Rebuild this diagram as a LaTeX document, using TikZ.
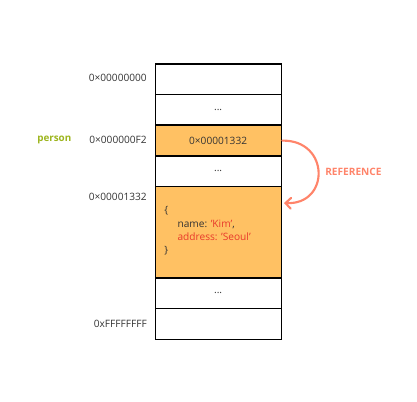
\documentclass[tikz,border=0pt]{standalone}
\usepackage{fontspec}
\setmainfont{Open Sans}
\usetikzlibrary{arrows.meta}
\definecolor{cellorange}{HTML}{FFC163}
\definecolor{arrowred}{HTML}{FF846A}
\definecolor{txtdark}{HTML}{333333}
\definecolor{txtred}{HTML}{E8392B}
\definecolor{olive}{HTML}{9DB51E}
\tikzset{
  cell/.style={draw=black, line width=0.9pt, minimum width=126*0.75pt, inner sep=0pt, font=\fontsize{7.6}{9}\selectfont, text=txtdark},
  addr/.style={anchor=east, font=\fontsize{7.6}{9}\selectfont, text=txtdark, inner sep=0pt},
}
\begin{document}
\begin{tikzpicture}[x=0.75pt,y=-0.75pt]
\useasboundingbox (0,0) rectangle (417,402);
% cells
\node[cell, fill=white, minimum height=30.5*0.75pt, anchor=north west] (c1) at (154.5,63.5) {};
\node[cell, fill=white, minimum height=31*0.75pt, anchor=north west] (c2) at (154.5,94) {...};
\node[cell, fill=cellorange, minimum height=31*0.75pt, anchor=north west] (c3) at (154.5,124.5) {0×00001332};
\node[cell, fill=white, minimum height=30.5*0.75pt, anchor=north west] (c4) at (154.5,155.5) {...};
\node[cell, fill=cellorange, minimum height=91.5*0.75pt, anchor=north west] (c5) at (154.5,186) {};
\node[cell, fill=white, minimum height=30.5*0.75pt, anchor=north west] (c6) at (154.5,277.5) {...};
\node[cell, fill=white, minimum height=31*0.75pt, anchor=north west] (c7) at (154.5,308) {};
% object text
\node[anchor=north west, inner sep=0pt, font=\fontsize{7.6}{9.8}\selectfont, text=txtdark, align=left] (obj) at (164,206.5)
  {\{\\
   \hspace*{10pt}name: \textcolor{txtred}{'Kim'},\\
   \hspace*{10pt}\textcolor{txtred}{address: 'Seoul'}\\
   \}};
% addresses
\node[addr] (a1) at (147,78) {0×00000000};
\node[addr] (a3) at (147,140) {0×000000F2};
\node[addr] (a5) at (147,197) {0×00001332};
\node[addr] (a7) at (147,324) {0xFFFFFFFF};
\node[anchor=west, inner sep=0pt, font=\fontsize{7.4}{9}\selectfont\bfseries, text=olive] (person) at (37,140) {person};
% arrow
\coordinate (s) at ([xshift=0.5pt]c3.east);
\coordinate (e) at (284,203);
\draw[arrowred, line width=1.6pt, line cap=round, -{Straight Barb[length=4pt,width=8pt,line cap=round]}]
  (s) .. controls (330,140) and (330,205) .. (e);
\node[anchor=west, inner sep=0pt, font=\fontsize{7.6}{9}\selectfont\bfseries, text=arrowred] (ref) at (325,172) {REFERENCE};
\end{tikzpicture}
\end{document}
